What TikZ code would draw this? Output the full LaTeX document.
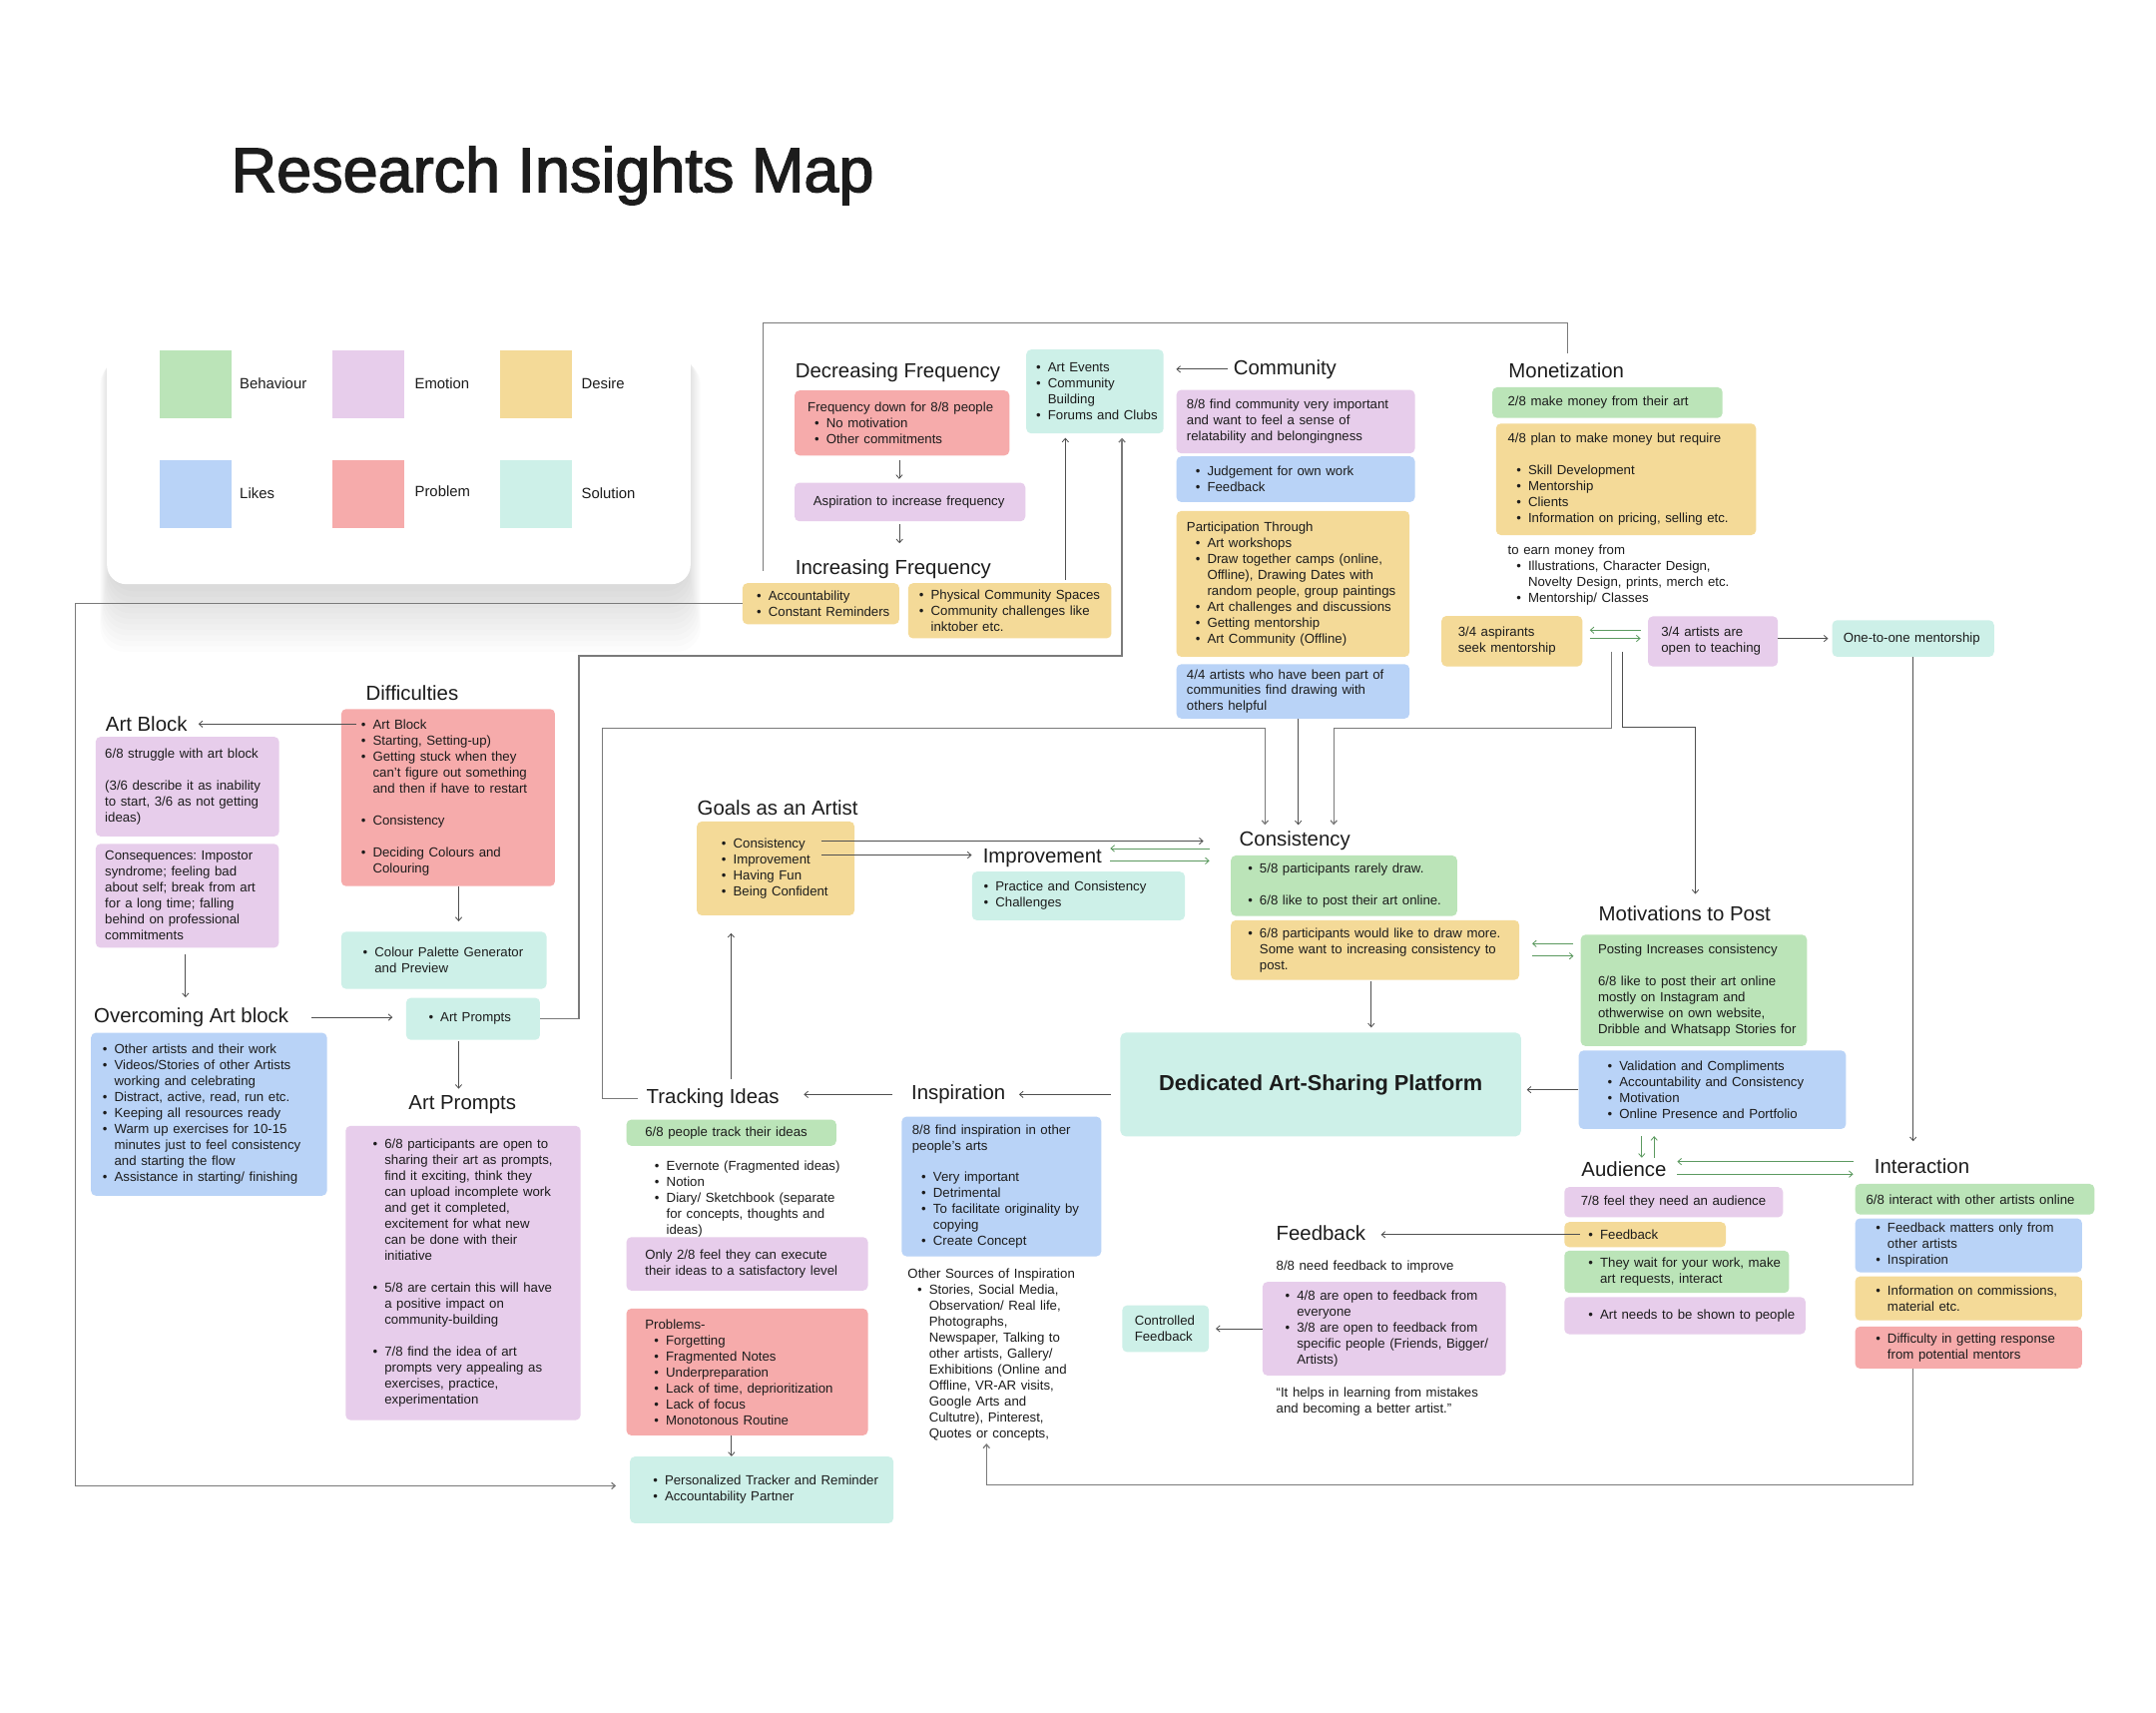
\documentclass[tikz,border=0pt]{standalone}
\usepackage{fontspec}
\setmainfont{Liberation Sans}
\newfontfamily\titlefont{Liberation Sans}[FakeBold=2.2]
\usetikzlibrary{arrows.meta}

\definecolor{ink}{HTML}{1C1C1C}
\definecolor{behav}{HTML}{BBE4B8}
\definecolor{emot}{HTML}{E7CDEB}
\definecolor{desire}{HTML}{F4DA98}
\definecolor{likes}{HTML}{B9D3F7}
\definecolor{prob}{HTML}{F6ABAB}
\definecolor{solu}{HTML}{CDF0E8}
\definecolor{wire}{HTML}{505050}
\definecolor{routegray}{HTML}{7A7A7A}
\definecolor{gwire}{HTML}{5C9A60}

\newlength\bw
\setlength\bw{8.5pt}
\newcommand\bodyset{\fontsize{9.6}{11.6}\selectfont\frenchspacing%
  \rightskip=0pt plus 1fil minus 60pt\relax%
  \parindent=0pt\hyphenpenalty=10000\exhyphenpenalty=10000\relax}
\newcommand\bfirst[1][0pt]{\hangindent=\dimexpr#1+\bw\relax\hangafter=1\relax%
  \hspace*{#1}\hbox to\bw{\textbullet\hfil}\ignorespaces}
\newcommand\bi[1][0pt]{\par\bfirst[#1]}
\newcommand\nl{\hfil\break}
\newcommand\gap{\par\vskip11.6pt\relax}

\begin{document}
\begin{tikzpicture}[x=1pt, y=-1pt, every node/.style={text=ink},
  note/.style={anchor=north west, rounded corners=3.5pt, inner ysep=1pt,
    execute at begin node=\bodyset},
  notesize/.style n args={3}{text width={#1-2*#3}, minimum height=#2, inner xsep=#3},
  plaintxt/.style={anchor=north west, inner sep=0pt, execute at begin node=\bodyset},
  head/.style={anchor=base west, inner sep=0pt, font=\fontsize{14.8}{17}\selectfont},
  swatch/.style={anchor=north west, minimum width=52.4, minimum height=49.2, inner sep=0pt},
  legtxt/.style={anchor=west, inner sep=0pt, font=\fontsize{10.8}{13}\selectfont},
  link/.style={draw=wire, line width=0.6pt},
  arr/.style={link, ->},
  route/.style={draw=routegray, line width=0.9pt},
  garr/.style={draw=gwire, line width=0.6pt, ->},
  >={Straight Barb[length=2.6pt,width=4.6pt]}]
  %
  \fill[white] (0,0) rectangle (1568,1245);
  \useasboundingbox (0,0) rectangle (1568,1245);
  %
  \foreach \k in {1,...,12}
    \fill[black, opacity=0.011, rounded corners=18pt]
      (80-0.6*\k, 250+\k) rectangle (500+0.8*\k, 426+4*\k);
  \node[anchor=north west, fill=white, rounded corners=14pt, minimum width=424.4,
    minimum height=196.6, inner sep=0pt] (legend) at (77.6,228) {};
  \node[swatch, fill=behav] (swBeh) at (116.1,254.8) {};
  \node[swatch, fill=emot] (swEmo) at (241.7,254.8) {};
  \node[swatch, fill=desire] (swDes) at (363.5,254.8) {};
  \node[swatch, fill=likes] (swLik) at (116.1,334.4) {};
  \node[swatch, fill=prob] (swPro) at (241.7,334.4) {};
  \node[swatch, fill=solu] (swSol) at (363.5,334.4) {};
  \node[legtxt] (lbBeh) at (174.2,279) {Behaviour};
  \node[legtxt] (lbEmo) at (301.5,279) {Emotion};
  \node[legtxt] (lbDes) at (422.8,279) {Desire};
  \node[legtxt] (lbLik) at (174.2,358.6) {Likes};
  \node[legtxt] (lbPro) at (301.5,357.2) {Problem};
  \node[legtxt] (lbSol) at (422.8,358.6) {Solution};
  %
  \node[anchor=base west, inner sep=0pt, font=\titlefont\fontsize{45.7}{52}\selectfont]
    (title) at (168,139.5) {Research Insights Map};
  %
  \coordinate (topR) at (1140,235);
  \coordinate (leftX) at (55,438);
  \coordinate (bendA) at (421,477);
  \coordinate (bendB) at (438,529.5);
  \coordinate (colC) at (920,529.5);
  \coordinate (monL) at (1172,474);
  \coordinate (monR) at (1180,474);
  \coordinate (bendM) at (970,529.5);
  \coordinate (bendR) at (1233,529);
  \coordinate (botL) at (717.4,1079.6);
  %
  \node[head] (hDec) at (578.3,275) {Decreasing Frequency};
  \node[note, fill=prob, notesize={156.2}{47.2}{9.5}] (freqdown) at (577.7,283.8)
    {Frequency down for 8/8 people\bi[5pt]No motivation\bi[5pt]Other commitments\par};
  \node[note, fill=emot, notesize={167.8}{28.1}{13.6}] (aspir) at (577.7,350.8)
    {Aspiration to increase frequency};
  \node[head] (hInc) at (578.3,418) {Increasing Frequency};
  \node[note, fill=desire, notesize={114}{29.8}{10.4}] (accnt) at (539.8,423.9)
    {\bfirst Accountability\bi Constant Reminders\par};
  \node[note, fill=desire, notesize={147.8}{40.1}{8}] (physical) at (660.3,423.9)
    {\bfirst Physical Community Spaces\bi Community challenges like\nl inktober etc.\par};
  \node[note, fill=solu, notesize={99.8}{61}{7.2}] (events) at (746.2,254)
    {\bfirst Art Events\bi Community\nl Building\bi Forums and Clubs\par};
  %
  \node[head] (hCom) at (896.9,272.3) {Community};
  \node[note, fill=emot, notesize={173.4}{46.2}{7.5}] (commneed) at (855.4,283.3)
    {8/8 find community very important\nl and want to feel a sense of\nl relatability and belongingness};
  \node[note, fill=likes, notesize={173.4}{33.2}{7.5}] (judge) at (855.4,331.7)
    {\bfirst[6.4pt]Judgement for own work\bi[6.4pt]Feedback\par};
  \node[note, fill=desire, notesize={169.5}{106}{7.5}] (particip) at (855.4,371.4)
    {Participation Through\bi[6.4pt]Art workshops\bi[6.4pt]Draw together camps (online,\nl
     Offline), Drawing Dates with\nl random people, group paintings\bi[6.4pt]Art challenges and discussions\bi[6.4pt]Getting mentorship\bi[6.4pt]Art Community (Offline)\par};
  \node[note, fill=likes, notesize={169.5}{39.5}{7.5}] (fourfour) at (855.4,482.8)
    {4/4 artists who have been part of\nl communities find drawing with\nl others helpful};
  %
  \node[head] (hMon) at (1097,274.6) {Monetization};
  \node[note, fill=behav, notesize={167.3}{22.3}{11.2}] (earnnow) at (1085.2,281.4)
    {2/8 make money from their art};
  \node[note, fill=desire, notesize={189.1}{81.1}{8.6}] (planmoney) at (1087.8,307.8)
    {4/8 plan to make money but require\gap\bi[6.3pt]Skill Development\bi[6.3pt]Mentorship\bi[6.3pt]Clients\bi[6.3pt]Information on pricing, selling etc.\par};
  \node[plaintxt, text width=180] (earnfrom) at (1096.4,396.2)
    {to earn money from\bi[6.3pt]Illustrations, Character Design,\nl Novelty Design, prints, merch etc.\bi[6.3pt]Mentorship/ Classes\par};
  \node[note, fill=desire, notesize={102.4}{36.7}{12}] (seekment) at (1048.2,447.7)
    {3/4 aspirants\nl seek mentorship};
  \node[note, fill=emot, notesize={94.5}{36.4}{9.7}] (teach) at (1198.3,448)
    {3/4 artists are\nl open to teaching};
  \node[note, fill=solu, notesize={117.7}{26.6}{8.1}] (onetoone) at (1332.3,450.8)
    {One-to-one mentorship};
  %
  \node[head] (hDif) at (266,509) {Difficulties};
  \node[note, fill=prob, notesize={155.4}{128.8}{8}] (artblk) at (248,515.4)
    {\bfirst[6.5pt]Art Block\bi[6.5pt]Starting, Setting-up)\bi[6.5pt]Getting stuck when they\nl
     can’t figure out something\nl and then if have to restart\gap\bi[6.5pt]Consistency\gap\bi[6.5pt]Deciding Colours and\nl Colouring\par};
  \node[head] (hBlk) at (76.7,532) {Art Block};
  \node[note, fill=emot, notesize={133.4}{72.4}{6.8}] (struggle) at (69.4,535.6)
    {6/8 struggle with art block\gap(3/6 describe it as inability\nl to start, 3/6 as not getting\nl ideas)};
  \node[note, fill=emot, notesize={133.2}{75.6}{6.8}] (conseq) at (69.4,613.4)
    {Consequences: Impostor\nl syndrome; feeling bad\nl about self; break from art\nl for a long time; falling\nl behind on professional\nl commitments};
  \node[head] (hOver) at (68.2,743.6) {Overcoming Art block};
  \node[note, fill=likes, notesize={171.6}{118.5}{8.5}] (overcome) at (66,750.8)
    {\bfirst Other artists and their work\bi Videos/Stories of other Artists\nl working and celebrating\bi Distract, active, read, run etc.\bi Keeping all resources ready\bi Warm up exercises for 10-15\nl
     minutes just to feel consistency\nl and starting the flow\bi Assistance in starting/ finishing\par};
  \node[note, fill=solu, notesize={149.3}{41.5}{8}] (palette) at (248,677.4)
    {\bfirst[7.8pt]Colour Palette Generator\nl and Preview\par};
  \node[note, fill=solu, notesize={97.3}{30.6}{8}] (prompts) at (295.2,725.4)
    {\bfirst[8.4pt]Art Prompts\par};
  \node[head] (hProm) at (297,807.1) {Art Prompts};
  \node[note, fill=emot, notesize={170.8}{214}{8}] (promptfind) at (251.2,818.5)
    {\bfirst[11.8pt]6/8 participants are open to\nl sharing their art as prompts,\nl find it exciting, think they\nl can upload incomplete work\nl
     and get it completed,\nl excitement for what new\nl can be done with their\nl initiative\gap\bi[11.8pt]5/8 are certain this will have\nl
     a positive impact on\nl community-building\gap\bi[11.8pt]7/8 find the idea of art\nl prompts very appealing as\nl exercises, practice,\nl experimentation\par};
  %
  \node[head] (hGoal) at (507,592.8) {Goals as an Artist};
  \node[note, fill=desire, notesize={114.6}{68.2}{8}] (goals) at (506.6,597.2)
    {\bfirst[10pt]Consistency\bi[10pt]Improvement\bi[10pt]Having Fun\bi[10pt]Being Confident\par};
  \node[head] (hImp) at (714.7,627.6) {Improvement};
  \node[note, fill=solu, notesize={154.8}{35.3}{8.6}] (practice) at (706.7,633.7)
    {\bfirst Practice and Consistency\bi Challenges\par};
  \node[head] (hCons) at (901.2,615.3) {Consistency};
  \node[note, fill=behav, notesize={164.5}{44}{8}] (rarely) at (895,621.9)
    {\bfirst[4.4pt]5/8 participants rarely draw.\gap\bi[4.4pt]6/8 like to post their art online.\par};
  \node[note, fill=desire, notesize={209.7}{43.4}{8}] (drawmore) at (895,669)
    {\bfirst[4.4pt]6/8 participants would like to draw more.\nl Some want to increasing consistency to\nl post.\par};
  \node[anchor=north west, fill=solu, rounded corners=4pt, minimum width=291.4,
    minimum height=75.5, inner sep=0pt, font=\fontsize{15.8}{19}\selectfont\bfseries]
    (platform) at (814.6,750.7) {Dedicated Art-Sharing Platform};
  %
  \node[head] (hMot) at (1162.5,670) {Motivations to Post};
  \node[note, fill=behav, notesize={164.5}{81}{12.6}] (postcons) at (1149.4,679.5)
    {Posting Increases consistency\gap 6/8 like to post their art online\nl mostly on Instagram and\nl othwerwise on own website,\nl Dribble and Whatsapp Stories for};
  \node[note, fill=likes, notesize={194.3}{57.1}{8}] (valid) at (1148,763.7)
    {\bfirst[13pt]Validation and Compliments\bi[13pt]Accountability and Consistency\bi[13pt]Motivation\bi[13pt]Online Presence and Portfolio\par};
  \node[head] (hAud) at (1150,855.3) {Audience};
  \node[note, fill=emot, notesize={159}{22}{12}] (audneed) at (1137.5,863)
    {7/8 feel they need an audience};
  \node[note, fill=desire, notesize={117.5}{18.2}{8}] (audfb) at (1137.5,888.5)
    {\bfirst[9.5pt]Feedback\par};
  \node[note, fill=behav, notesize={163.5}{30.7}{8}] (audwait) at (1137.5,909.3)
    {\bfirst[9.5pt]They wait for your work, make\nl art requests, interact\par};
  \node[note, fill=emot, notesize={175.4}{27}{8}] (audshow) at (1137.5,943)
    {\bfirst[9.5pt]Art needs to be shown to people\par};
  \node[head] (hInt) at (1363,853.3) {Interaction};
  \node[note, fill=behav, notesize={174}{22.3}{8}] (intonline) at (1349,860.7)
    {6/8 interact with other artists online};
  \node[note, fill=likes, notesize={165}{39.2}{8}] (intfb) at (1349,885.8)
    {\bfirst[7pt]Feedback matters only from\nl other artists\bi[7pt]Inspiration\par};
  \node[note, fill=desire, notesize={165}{32}{8}] (intinfo) at (1349,928)
    {\bfirst[7pt]Information on commissions,\nl material etc.\par};
  \node[note, fill=prob, notesize={165}{30.5}{8}] (intdiff) at (1349,964.5)
    {\bfirst[7pt]Difficulty in getting response\nl from potential mentors\par};
  %
  \node[head] (hFb) at (928,901.8) {Feedback};
  \node[plaintxt, text width=170] (fbneed) at (928,916.4) {8/8 need feedback to improve};
  \node[note, fill=emot, notesize={177}{68}{8}] (fbopen) at (918,932)
    {\bfirst[8.5pt]4/8 are open to feedback from\nl everyone\bi[8.5pt]3/8 are open to feedback from\nl specific people (Friends, Bigger/\nl Artists)\par};
  \node[note, fill=solu, notesize={63}{34}{9}] (controlled) at (816,949)
    {Controlled\nl Feedback};
  \node[plaintxt, text width=180] (quote) at (928,1009)
    {“It helps in learning from mistakes\nl and becoming a better artist.”};
  %
  \node[head] (hTrack) at (470,802.6) {Tracking Ideas};
  \node[note, fill=behav, notesize={152.6}{19}{13.6}] (trackers) at (455.4,814)
    {6/8 people track their ideas};
  \node[plaintxt, text width=160] (tools) at (476,844)
    {\bfirst Evernote (Fragmented ideas)\bi Notion\bi Diary/ Sketchbook (separate\nl for concepts, thoughts and\nl ideas)\par};
  \node[note, fill=emot, notesize={175.6}{38.9}{13.6}] (execideas) at (455.4,899.4)
    {Only 2/8 feel they can execute\nl their ideas to a satisfactory level};
  \node[note, fill=prob, notesize={175.6}{92.2}{13.6}] (problems) at (455.4,951.4)
    {Problems-\bi[6.6pt]Forgetting\bi[6.6pt]Fragmented Notes\bi[6.6pt]Underpreparation\bi[6.6pt]Lack of time, deprioritization\bi[6.6pt]Lack of focus\bi[6.6pt]Monotonous Routine\par};
  \node[note, fill=solu, notesize={191.5}{48.5}{8}] (tracker) at (458,1059)
    {\bfirst[8.8pt]Personalized Tracker and Reminder\bi[8.8pt]Accountability Partner\par};
  %
  \node[head] (hInsp) at (662.7,799.7) {Inspiration};
  \node[note, fill=likes, notesize={145.1}{101.6}{7.6}] (inspbox) at (655.6,811.8)
    {8/8 find inspiration in other\nl people’s arts\gap\bi[6.8pt]Very important\bi[6.8pt]Detrimental\bi[6.8pt]To facilitate originality by\nl copying\bi[6.8pt]Create Concept\par};
  \node[plaintxt, text width=150] (othersrc) at (660,922.4)
    {Other Sources of Inspiration\bi[7pt]Stories, Social Media,\nl Observation/ Real life,\nl Photographs,\nl Newspaper, Talking to\nl
     other artists, Gallery/\nl Exhibitions (Online and\nl Offline, VR-AR visits,\nl Google Arts and\nl Cultutre), Pinterest,\nl Quotes or concepts,\par};
  %
  \draw[arr, shorten <=3pt, shorten >=2.5pt] ([xshift=-2pt]freqdown.south) -- ([xshift=-2pt]freqdown.south |- aspir.north);
  \draw[arr, shorten <=2pt, shorten >=12pt] ([xshift=-7.6pt]aspir.south) -- ([xshift=-7.6pt]aspir.south |- hInc.north);
  \draw[arr, shorten <=2pt, shorten >=3pt] ([xshift=114.5pt]physical.north west) -- ([xshift=114.5pt]physical.north west |- events.south);
  \draw[route, ->, shorten >=3pt] (prompts.east) -| (bendA) -| ([xshift=69.8pt]events.south west);
  \draw[arr, shorten <=4pt, shorten >=9pt] (hCom.west) -- (hCom.west -| events.east);
  \draw[route] ([xshift=15pt,yshift=9pt]accnt.north west) |- (topR) -- ([yshift=7pt]topR |- hMon.north);
  \draw[route, ->, shorten >=10pt] (accnt.west) -| ([yshift=3pt]leftX |- tracker.west) -- ([yshift=3pt]tracker.west);
  \draw[route, ->, shorten >=4.5pt] ([xshift=-6pt]hTrack.west) -| (bendB) -- (colC) -- (colC |- hCons.north);
  \draw[arr, shorten >=4.5pt] ([xshift=3.85pt]fourfour.south) -- ([xshift=3.85pt]fourfour.south |- hCons.north);
  \draw[route, ->, shorten >=4.5pt] (monL) |- (bendM) -- (bendM |- hCons.north);
  \draw[link, ->, shorten >=9pt] (monR) |- (bendR) -- (bendR |- hMot.north);
  %
  \draw[arr, shorten >=26pt] ([xshift=-24.4pt,yshift=19.9pt]goals.east) -- ([yshift=19.9pt]goals.east -| hCons.west);
  \draw[arr, shorten >=8pt] ([xshift=-24.4pt,yshift=9.7pt]goals.east) -- ([yshift=9.7pt]goals.east -| hImp.west);
  \draw[garr, shorten <=21.6pt, shorten >=6pt] ([yshift=-5.5pt]hCons.west) -- ([yshift=-5.5pt]hCons.west -| hImp.east);
  \draw[garr, shorten <=6pt, shorten >=21.6pt] ([yshift=-14.5pt]hCons.west -| hImp.east) -- ([yshift=-14.5pt]hCons.west);
  \draw[arr, shorten >=12.8pt] ([xshift=61.7pt,yshift=6.6pt]hTrack.north west) -- ([xshift=61.7pt]hTrack.north west |- goals.south);
  \draw[arr, shorten <=13.5pt, shorten >=17.7pt] (hInsp.west) -- (hInsp.west -| hTrack.east);
  \draw[arr, shorten <=7pt, shorten >=9.7pt] (platform.west |- hInsp.west) -- (hInsp.east);
  \draw[arr, shorten >=4pt] (valid.west) -- (valid.west -| platform.east);
  \draw[arr, shorten <=1pt, shorten >=3.5pt] ([xshift=-2.8pt]drawmore.south) -- ([xshift=-2.8pt]drawmore.south |- platform.north);
  \draw[garr, shorten <=5pt, shorten >=9.2pt] ([yshift=4.7pt]drawmore.east -| postcons.west) -- ([yshift=4.7pt]drawmore.east);
  \draw[garr, shorten <=9.2pt, shorten >=5pt] ([yshift=-4.3pt]drawmore.east) -- ([yshift=-4.3pt]drawmore.east -| postcons.west);
  %
  \draw[garr, shorten <=5.2pt, shorten >=5.2pt] ([yshift=8pt]seekment.east -| teach.west) -- ([yshift=8pt]seekment.east);
  \draw[garr, shorten <=5.2pt, shorten >=5.2pt] ([yshift=2pt]seekment.east) -- ([yshift=2pt]seekment.east -| teach.west);
  \draw[arr, shorten >=2.8pt] (teach.east |- onetoone.west) -- (onetoone.west);
  \draw[arr, shorten >=12.5pt] (onetoone.south) -- (onetoone.south |- hInt.north);
  \draw[garr, shorten <=5pt, shorten >=2.5pt] ([xshift=44pt]hAud.north west |- valid.south) -- ([xshift=44pt]hAud.north west);
  \draw[garr, shorten <=2.5pt, shorten >=5pt] ([xshift=53pt]hAud.north west) -- ([xshift=53pt]hAud.north west |- valid.south);
  \draw[garr, shorten <=15.2pt, shorten >=7.7pt] ([yshift=5.3pt]hAud.east -| hInt.west) -- ([yshift=5.3pt]hAud.east);
  \draw[garr, shorten <=7.7pt, shorten >=15.2pt] ([yshift=-3.8pt]hAud.east) -- ([yshift=-3.8pt]hAud.east -| hInt.west);
  \draw[arr, shorten >=11pt] ([xshift=11.5pt]audfb.west) -- (audfb.west -| hFb.east);
  \draw[arr, shorten >=4.8pt] (fbopen.west) -- (fbopen.west -| controlled.east);
  \draw[route, ->, shorten >=2pt] ([xshift=42.2pt]intdiff.south west) |- (botL) -- (botL |- othersrc.south);
  %
  \draw[arr, shorten >=8pt] ([xshift=11pt,yshift=-11.1pt]artblk.north west) -- ([yshift=-11.1pt]artblk.north west -| hBlk.east);
  \draw[arr, shorten >=7.4pt] ([xshift=7.7pt]artblk.south) -- ([xshift=7.7pt]artblk.south |- palette.north);
  \draw[arr, shorten <=4.8pt, shorten >=7.4pt] ([xshift=-1.3pt]conseq.south) -- ([xshift=-1.3pt]conseq.south |- hOver.north);
  \draw[arr, shorten <=16.3pt, shorten >=9.7pt] (hOver.east) -- (hOver.east -| prompts.west);
  \draw[arr, shorten <=1pt, shorten >=5pt] ([xshift=-10.5pt]prompts.south) -- ([xshift=-10.5pt]prompts.south |- hProm.north);
  \draw[arr] ([xshift=-11.4pt]problems.south) -- ([xshift=-11.4pt]problems.south |- tracker.north);
  %
\end{tikzpicture}
\end{document}
